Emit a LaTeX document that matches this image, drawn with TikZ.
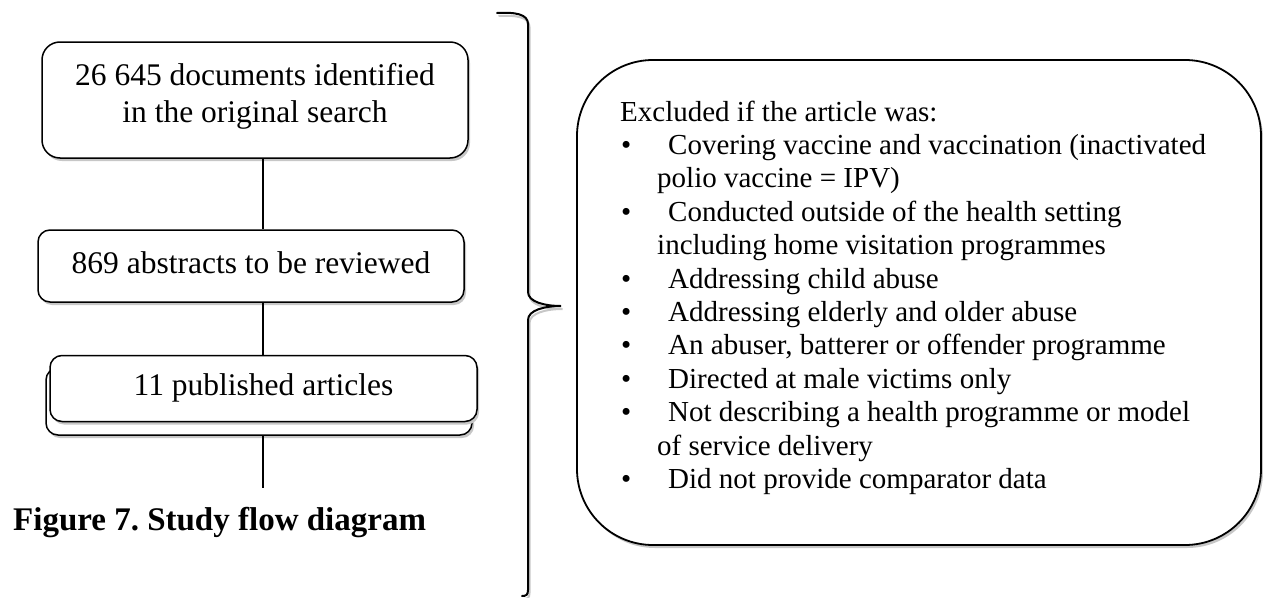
\documentclass[tikz,border=0pt]{standalone}
\usepackage{fontspec}
\setmainfont{Liberation Serif}
\usetikzlibrary{shadows}
\frenchspacing

% bullet column and hanging indent for the exclusion list
\newcommand\listbullet{\makebox[48pt][l]{\hspace*{1pt}•}}
\newcommand\listcont{\hspace*{37pt}}

\begin{document}
\begin{tikzpicture}[x=1pt,y=-1pt,
  boxshadow/.style={general shadow={fill=black!22, shadow xshift=2pt, shadow yshift=-3pt}},
  flowbox/.style={draw, fill=white, line width=1.5pt, rounded corners=14pt,
    inner sep=0pt, align=center, boxshadow,
    font=\fontsize{31.5}{37}\selectfont},
  oneline/.style={text height=22pt, text depth=8pt},
  connector/.style={draw, line width=1.5pt},
  exclbox/.style={draw, fill=white, line width=1.8pt, rounded corners=76pt,
    inner sep=0pt, boxshadow},
  listtext/.style={inner sep=0pt, align=left,
    font=\fontsize{29}{33.4}\selectfont},
  bracestyle/.style={line width=2pt, line cap=round,
    preaction={draw=black!22, line width=2pt,
      transform canvas={xshift=1.5pt, yshift=-3pt}}}
]
\useasboundingbox (0,0) rectangle (1263,597);

\coordinate (spine) at (263,0);

% flow boxes
\node[flowbox, rounded corners=18pt, minimum width=426pt, minimum height=116pt]
  (b1) at (255,100) {26 645 documents identified\\in the original search\rule[-14pt]{0pt}{14pt}};
\node[flowbox, oneline, rounded corners=12pt, minimum width=426pt, minimum height=72pt]
  (b2) at (251,266) {869 abstracts to be reviewed};
\node[flowbox, rounded corners=12pt, minimum width=426pt, minimum height=67pt]
  (b3back) at (259,401.5) {};
\node[flowbox, oneline, rounded corners=12pt, minimum width=427pt, minimum height=66pt]
  (b3) at (263.5,388.5) {11 published articles};

\coordinate (flowend) at (263,488);

% connectors along the spine
\draw[connector] (b1.south -| spine) -- (b2.north -| spine);
\draw[connector] (b2.south -| spine) -- (b3.north -| spine);
\draw[connector] (b3back.south -| spine) -- (flowend);

% caption
\node[anchor=base west, inner sep=0pt, font=\bfseries\fontsize{33}{38}\selectfont]
  (caption) at (13,530) {Figure 7. Study flow diagram};

% right brace
\coordinate (bracetip) at (561,306);
\draw[bracestyle] (497,13) .. controls (515,12) and (528,14) .. (528,24)
  -- (528,292) .. controls (528,302) and (545,306) .. (bracetip)
  .. controls (545,306) and (528,310) .. (528,320)
  -- (528,590) .. controls (528,595) and (526,596) .. (522,596);

% exclusion criteria box
\node[exclbox, minimum width=684pt, minimum height=485pt] (excl) at (919,302.5) {};
\node[listtext, anchor=north west] (excltext) at (620,100.5) {%
Excluded if the article was:\\
\listbullet Covering vaccine and vaccination (inactivated\\
\listcont polio vaccine = IPV)\\
\listbullet Conducted outside of the health setting\\
\listcont including home visitation programmes\\
\listbullet Addressing child abuse\\
\listbullet Addressing elderly and older abuse\\
\listbullet An abuser, batterer or offender programme\\
\listbullet Directed at male victims only\\
\listbullet Not describing a health programme or model\\
\listcont of service delivery\\
\listbullet Did not provide comparator data};
\end{tikzpicture}
\end{document}
